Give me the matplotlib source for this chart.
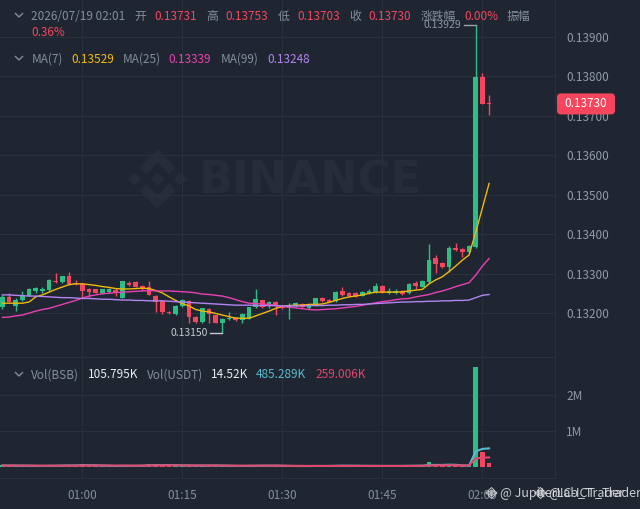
import matplotlib
matplotlib.use("Agg")
import matplotlib.pyplot as plt
import matplotlib.dates as mdates
from matplotlib.patches import Polygon, FancyBboxPatch
from matplotlib.ticker import FormatStrFormatter
import numpy as np
import pandas as pd

plt.rcParams['font.family'] = ['Noto Sans CJK SC', 'DejaVu Sans']

BG = "#1f2632"
GRID = "#2a313c"
UP = "#2ebd85"
DOWN = "#f6465d"
GRAY = "#848e9c"
WHITE = "#eaecef"
MA7C, MA25C, MA99C = "#f0b90b", "#eb40b5", "#b385f2"
VMA5C, VMA10C = "#58b9cf", "#e0466c"

# 1-minute candles starting 00:48
start = "2026-07-19 00:48"
opens = [0.13216, 0.13242, 0.13220, 0.13234, 0.13245, 0.13257, 0.13257, 0.13259, 0.13282, 0.13279,
         0.13295, 0.13278, 0.13274, 0.13262, 0.13261, 0.13253, 0.13255, 0.13259, 0.13240, 0.13278,
         0.13280, 0.13270, 0.13268, 0.13244, 0.13232, 0.13205, 0.13199, 0.13219, 0.13232, 0.13192,
         0.13179, 0.13211, 0.13196, 0.13175, 0.13185, 0.13190, 0.13184, 0.13187, 0.13216, 0.13233,
         0.13221, 0.13229, 0.13219, 0.13215, 0.13219, 0.13224, 0.13213, 0.13220, 0.13238, 0.13234,
         0.13232, 0.13258, 0.13252, 0.13252, 0.13245, 0.13251, 0.13254, 0.13270, 0.13251, 0.13251,
         0.13258, 0.13251, 0.13276, 0.13268, 0.13280, 0.13340, 0.13327, 0.13318, 0.13366, 0.13364,
         0.13356, 0.13368, 0.13799, 0.13731]
highs = [0.13247, 0.13253, 0.13239, 0.13257, 0.13264, 0.13268, 0.13268, 0.13287, 0.13302, 0.13296,
         0.13304, 0.13285, 0.13276, 0.13264, 0.13263, 0.13263, 0.13264, 0.13265, 0.13283, 0.13281,
         0.13282, 0.13272, 0.13283, 0.13247, 0.13234, 0.13206, 0.13222, 0.13237, 0.13234, 0.13194,
         0.13215, 0.13213, 0.13197, 0.13189, 0.13205, 0.13192, 0.13202, 0.13216, 0.13261, 0.13235,
         0.13232, 0.13231, 0.13222, 0.13226, 0.13228, 0.13227, 0.13225, 0.13240, 0.13242, 0.13237,
         0.13257, 0.13268, 0.13255, 0.13255, 0.13256, 0.13261, 0.13278, 0.13272, 0.13264, 0.13261,
         0.13259, 0.13277, 0.13282, 0.13285, 0.13375, 0.13348, 0.13329, 0.13371, 0.13379, 0.13366,
         0.13373, 0.13929, 0.13807, 0.13753]
lows = [0.13211, 0.13228, 0.13207, 0.13232, 0.13243, 0.13251, 0.13251, 0.13257, 0.13277, 0.13277,
        0.13273, 0.13272, 0.13238, 0.13242, 0.13251, 0.13249, 0.13253, 0.13244, 0.13239, 0.13270,
        0.13266, 0.13259, 0.13246, 0.13205, 0.13199, 0.13199, 0.13197, 0.13216, 0.13177, 0.13177,
        0.13177, 0.13175, 0.13175, 0.13150, 0.13184, 0.13182, 0.13175, 0.13185, 0.13214, 0.13215,
        0.13214, 0.13197, 0.13211, 0.13186, 0.13216, 0.13214, 0.13211, 0.13218, 0.13230, 0.13228,
        0.13230, 0.13244, 0.13242, 0.13242, 0.13243, 0.13249, 0.13252, 0.13253, 0.13249, 0.13249,
        0.13247, 0.13249, 0.13261, 0.13266, 0.13278, 0.13302, 0.13315, 0.13306, 0.13359, 0.13344,
        0.13354, 0.13365, 0.13729, 0.13703]
closes = [0.13241, 0.13230, 0.13234, 0.13247, 0.13262, 0.13264, 0.13262, 0.13285, 0.13279, 0.13295,
          0.13275, 0.13274, 0.13257, 0.13255, 0.13253, 0.13261, 0.13261, 0.13251, 0.13282, 0.13271,
          0.13268, 0.13261, 0.13247, 0.13230, 0.13205, 0.13200, 0.13219, 0.13234, 0.13190, 0.13179,
          0.13213, 0.13199, 0.13177, 0.13186, 0.13189, 0.13184, 0.13199, 0.13216, 0.13236, 0.13216,
          0.13229, 0.13220, 0.13213, 0.13222, 0.13226, 0.13216, 0.13223, 0.13238, 0.13232, 0.13230,
          0.13255, 0.13246, 0.13245, 0.13245, 0.13254, 0.13258, 0.13270, 0.13254, 0.13258, 0.13258,
          0.13249, 0.13275, 0.13270, 0.13283, 0.13334, 0.13324, 0.13317, 0.13366, 0.13361, 0.13355,
          0.13371, 0.13799, 0.13731, 0.13730]

ma7 = [0.13226, 0.13226, 0.13226, 0.13226, 0.13229, 0.13242, 0.13247, 0.13254, 0.13261, 0.13267,
       0.13273, 0.13275, 0.13275, 0.13273, 0.13271, 0.13268, 0.13266, 0.13263, 0.13262, 0.13262,
       0.13263, 0.13264, 0.13263, 0.13258, 0.13252, 0.13242, 0.13233, 0.13225, 0.13219, 0.13210,
       0.13206, 0.13204, 0.13200, 0.13196, 0.13192, 0.13188, 0.13188, 0.13188, 0.13194, 0.13200,
       0.13206, 0.13213, 0.13218, 0.13220, 0.13221, 0.13221, 0.13223, 0.13223, 0.13224, 0.13228,
       0.13233, 0.13238, 0.13242, 0.13244, 0.13247, 0.13251, 0.13254, 0.13254, 0.13254, 0.13254,
       0.13255, 0.13257, 0.13259, 0.13261, 0.13275, 0.13285, 0.13293, 0.13306, 0.13320, 0.13335,
       0.13348, 0.13406, 0.13467, 0.13529]
ma25 = [0.13190, 0.13191, 0.13194, 0.13196, 0.13201, 0.13206, 0.13210, 0.13213, 0.13218, 0.13223,
        0.13228, 0.13233, 0.13239, 0.13244, 0.13247, 0.13250, 0.13251, 0.13253, 0.13254, 0.13255,
        0.13256, 0.13257, 0.13258, 0.13257, 0.13257, 0.13257, 0.13256, 0.13255, 0.13254, 0.13252,
        0.13249, 0.13248, 0.13246, 0.13244, 0.13240, 0.13235, 0.13230, 0.13226, 0.13225, 0.13224,
        0.13223, 0.13220, 0.13218, 0.13216, 0.13214, 0.13212, 0.13210, 0.13209, 0.13210, 0.13211,
        0.13212, 0.13214, 0.13216, 0.13218, 0.13221, 0.13224, 0.13227, 0.13230, 0.13232, 0.13235,
        0.13237, 0.13238, 0.13242, 0.13245, 0.13248, 0.13253, 0.13257, 0.13262, 0.13268, 0.13273,
        0.13278, 0.13297, 0.13320, 0.13339]
ma99 = [0.13247, 0.13247, 0.13246, 0.13245, 0.13244, 0.13244, 0.13243, 0.13242, 0.13241, 0.13240,
        0.13240, 0.13239, 0.13238, 0.13238, 0.13237, 0.13236, 0.13236, 0.13235, 0.13234, 0.13234,
        0.13233, 0.13233, 0.13232, 0.13232, 0.13232, 0.13231, 0.13230, 0.13229, 0.13228, 0.13227,
        0.13226, 0.13225, 0.13224, 0.13223, 0.13222, 0.13221, 0.13221, 0.13221, 0.13220, 0.13220,
        0.13220, 0.13220, 0.13219, 0.13219, 0.13219, 0.13219, 0.13220, 0.13220, 0.13220, 0.13221,
        0.13221, 0.13222, 0.13222, 0.13223, 0.13223, 0.13224, 0.13225, 0.13226, 0.13227, 0.13228,
        0.13229, 0.13229, 0.13230, 0.13230, 0.13231, 0.13231, 0.13232, 0.13232, 0.13233, 0.13233,
        0.13234, 0.13240, 0.13246, 0.13248]

# volume in thousands of BSB
volume_k = [60, 45, 40, 35, 50, 30, 38, 55, 42, 48,
            70, 40, 95, 45, 35, 30, 28, 40, 65, 45,
            38, 35, 90, 85, 70, 40, 45, 35, 60, 50,
            55, 40, 45, 50, 30, 28, 35, 55, 60, 45,
            30, 40, 35, 38, 30, 32, 35, 45, 40, 30,
            55, 50, 35, 30, 32, 30, 45, 40, 28, 30,
            35, 50, 40, 55, 150, 60, 40, 70, 45, 35,
            50, 2750, 430, 106]
vol_ma5_k = [50, 48, 46, 46, 44, 40, 39, 42, 43, 47,
             51, 51, 60, 58, 55, 49, 45, 38, 42, 42,
             41, 44, 54, 58, 63, 62, 60, 55, 52, 47,
             49, 48, 50, 47, 44, 40, 38, 40, 42, 45,
             45, 46, 42, 38, 35, 35, 34, 36, 36, 36,
             41, 44, 43, 42, 40, 39, 38, 37, 37, 37,
             38, 40, 42, 44, 62, 66, 65, 72, 68, 52,
             50, 440, 505, 520]
vol_ma10_k = [48, 48, 47, 46, 46, 45, 44, 44, 44, 45,
              46, 46, 50, 50, 50, 49, 48, 47, 47, 46,
              45, 46, 50, 52, 54, 54, 53, 52, 51, 50,
              50, 49, 50, 48, 46, 44, 43, 44, 45, 45,
              45, 45, 44, 42, 40, 39, 38, 38, 38, 38,
              39, 40, 40, 40, 39, 39, 39, 38, 38, 38,
              38, 39, 40, 41, 50, 53, 54, 56, 56, 50,
              49, 245, 265, 270]

price_ticks = [0.132, 0.133, 0.134, 0.135, 0.136, 0.137, 0.138, 0.139]
vol_ticks = [1e6, 2e6]
vol_tick_labels = ["1M", "2M"]

header_line = [("2026/07/19 02:01", GRAY), ("开", GRAY), ("0.13731", DOWN), ("高", GRAY),
               ("0.13753", DOWN), ("低", GRAY), ("0.13703", DOWN), ("收", GRAY),
               ("0.13730", DOWN), ("涨跌幅", GRAY), ("0.00%", DOWN), ("振幅", GRAY)]
header_x = [31.4, 134.7, 154.3, 206, 225.7, 277.6, 297, 349, 368.6, 420.4, 464.5, 507]
vol_header = [("Vol(BSB)", GRAY), ("105.795K", WHITE), ("Vol(USDT)", GRAY), ("14.52K", WHITE),
              ("485.289K", VMA5C), ("259.006K", VMA10C)]
vol_header_x = [31.4, 87.8, 147, 211, 256, 315.5]

W, H = 640, 509


def frac(x0, y0, x1, y1):
    return [x0 / W, 1 - y1 / H, (x1 - x0) / W, (y1 - y0) / H]


fig = plt.figure(figsize=(6.4, 5.09), dpi=100, facecolor=BG)

ax_bg = fig.add_axes([0, 0, 1, 1], zorder=0)
ax_bg.set_xlim(0, W); ax_bg.set_ylim(H, 0); ax_bg.axis("off")
ax = fig.add_axes(frac(0, 0, 555, 357), zorder=1)
axv = fig.add_axes(frac(0, 357, 555, 478), zorder=1)
ax_top = fig.add_axes([0, 0, 1, 1], zorder=5)
ax_top.set_xlim(0, W); ax_top.set_ylim(H, 0); ax_top.axis("off")
ax_top.patch.set_alpha(0)

# watermark logo + text
logo = [
    [(38.73, 53.2), (63.3, 28.63), (87.89, 53.22), (102.19, 38.92), (63.3, 0), (24.42, 38.88)],
    [(0, 63.31), (14.3, 49.01), (28.6, 63.31), (14.3, 77.61)],
    [(49.0, 63.31), (63.3, 49.0), (77.6, 63.31), (63.3, 77.61)],
    [(98.0, 63.31), (112.3, 49.01), (126.6, 63.31), (112.3, 77.61)],
    [(87.89, 73.41), (63.3, 98.0), (38.73, 73.44), (24.42, 87.73), (63.3, 126.61), (102.19, 87.73)],
]


def draw_logo(target, x0, y0, size, **kw):
    s = size / 126.61
    for poly in logo:
        target.add_patch(Polygon([(x0 + u * s, y0 + v * s) for u, v in poly], closed=True, **kw))


WM = "#272d38"
draw_logo(ax_bg, 128, 149.5, 59, fc=WM, ec="none")
ax_bg.text(199, 193.5, "BINANCE", color=WM, fontsize=32, fontweight="bold",
           family="DejaVu Sans", ha="left", va="baseline")

for a in (ax, axv):
    a.set_facecolor("none")
    a.grid(True, color=GRID, lw=0.8)
    a.set_axisbelow(True)
    for side in ("left", "top", "bottom"):
        a.spines[side].set_visible(False)
    a.spines["right"].set_color(GRID)
    a.yaxis.tick_right()
    a.tick_params(axis="y", length=0, pad=8, labelsize=8.5, labelcolor="#929aa5")
axv.spines["top"].set_visible(True); axv.spines["top"].set_color(GRID)
axv.spines["bottom"].set_visible(True); axv.spines["bottom"].set_color(GRID)

times = pd.date_range(start, periods=len(closes), freq="min")
x = mdates.date2num(times)
minute = 1 / 1440
t0100 = mdates.date2num(pd.Timestamp("2026-07-19 01:00"))
px_per_min = 6.667
xlim = (t0100 - 82.4 / px_per_min * minute, t0100 + (555 - 82.4) / px_per_min * minute)

o = np.array(opens); c = np.array(closes); hi = np.array(highs); lo = np.array(lows)
up = c >= o
colors = np.where(up, UP, DOWN)

ax.set_xlim(*xlim)
ax.set_ylim(0.139928 - 2.529e-5 * 357, 0.139928)
min_h = 2.53e-5
ax.vlines(x, lo, hi, colors=colors, lw=1, zorder=3)
ax.bar(x, np.maximum(np.abs(c - o), min_h), bottom=np.minimum(o, c), width=0.7 * minute,
       color=colors, linewidth=0, zorder=3)
ax.plot(x, ma7, color=MA7C, lw=1, zorder=4)
ax.plot(x, ma25, color=MA25C, lw=1, zorder=4)
ax.plot(x, ma99, color=MA99C, lw=1, zorder=4)
ax.set_yticks(price_ticks)
ax.yaxis.set_major_formatter(FormatStrFormatter("%.5f"))
ax.xaxis.set_major_locator(mdates.MinuteLocator(byminute=[0, 15, 30, 45]))
ax.tick_params(axis="x", length=0, labelbottom=False)

# high / low markers
ih, il = int(np.argmax(hi)), int(np.argmin(lo))
ax.plot([x[ih] - 1.8 * minute, x[ih]], [hi[ih], hi[ih]], color="#9aa1ab", lw=1, zorder=4)
ax.text(x[ih] - 2.2 * minute, hi[ih], f"{hi[ih]:.5f}", color="#8d95a1", fontsize=7.5,
        ha="right", va="center", zorder=4)
ax.plot([x[il] - 1.8 * minute, x[il]], [lo[il], lo[il]], color="#c5cad2", lw=1, zorder=4)
ax.text(x[il] - 2.2 * minute, lo[il], f"{lo[il]:.5f}", color="#c5cad2", fontsize=7.5,
        ha="right", va="center", zorder=4)

# volume panel
vol = np.array(volume_k) * 1000
axv.set_xlim(*xlim)
axv.set_ylim(-(478 - 467.3) / 36.4 * 1e6, (467.3 - 357) / 36.4 * 1e6)
axv.bar(x, vol, width=0.7 * minute, color=colors, linewidth=0, zorder=3)
axv.plot(x, np.array(vol_ma5_k) * 1000, color=VMA5C, lw=1.5, zorder=4)
axv.plot(x, np.array(vol_ma10_k) * 1000, color=VMA10C, lw=1.5, zorder=4)
axv.set_yticks(vol_ticks)
axv.set_yticklabels(vol_tick_labels)
axv.xaxis.set_major_locator(mdates.MinuteLocator(byminute=[0, 15, 30, 45]))
axv.xaxis.set_major_formatter(mdates.DateFormatter("%H:%M"))
axv.tick_params(axis="x", length=0, pad=8, labelsize=8.5, labelcolor=GRAY)

# header texts
def chevron(y):
    ax_top.plot([15.5, 19, 22.5], [y - 2, y + 1.5, y - 2], color=GRAY, lw=1)


chevron(15.5)
for (s, col), xx in zip(header_line, header_x):
    ax_top.text(xx, 16, s, color=col, fontsize=8.5, ha="left", va="center")
ax_top.text(31.4, 32.3, "0.36%", color=DOWN, fontsize=8.5, ha="left", va="center")

chevron(58.5)
ma_header = [("MA(7)", GRAY), (f"{ma7[-1]:.5f}", MA7C), ("MA(25)", GRAY), (f"{ma25[-1]:.5f}", MA25C),
             ("MA(99)", GRAY), (f"{ma99[-1]:.5f}", MA99C)]
for (s, col), xx in zip(ma_header, [31.4, 71.4, 122.4, 168.6, 220.4, 267.3]):
    ax_top.text(xx, 59.3, s, color=col, fontsize=8.5, ha="left", va="center")

chevron(374.5)
for (s, col), xx in zip(vol_header, vol_header_x):
    ax_top.text(xx, 375, s, color=col, fontsize=8.5, ha="left", va="center")

# last price tag
disp = ax.transData.transform((x[-1], c[-1]))
_, py = ax_top.transData.inverted().transform(disp)
ax_top.add_patch(FancyBboxPatch((557, py - 10.5), 58, 21, boxstyle="round,pad=0,rounding_size=4",
                                fc=DOWN, ec="none"))
ax_top.text(586, py, f"{c[-1]:.5f}", color="white", fontsize=8.5, ha="center", va="center")

# author watermark
draw_logo(ax_top, 486, 487.5, 11, fc="none", ec="#e6e8ea", lw=0.7, alpha=0.85)
draw_logo(ax_top, 535, 487.5, 11, fc="none", ec="#e6e8ea", lw=0.7, alpha=0.85)
ax_top.text(500, 493, "@ JupiterLab_Trader", color="#e6e8ea", alpha=0.85, fontsize=9,
            ha="left", va="center")
ax_top.text(548, 493, "@IC-ICT_Trader", color="#e6e8ea", alpha=0.85, fontsize=9,
            ha="left", va="center")

fig.savefig("out.png", dpi=100, facecolor=BG)
